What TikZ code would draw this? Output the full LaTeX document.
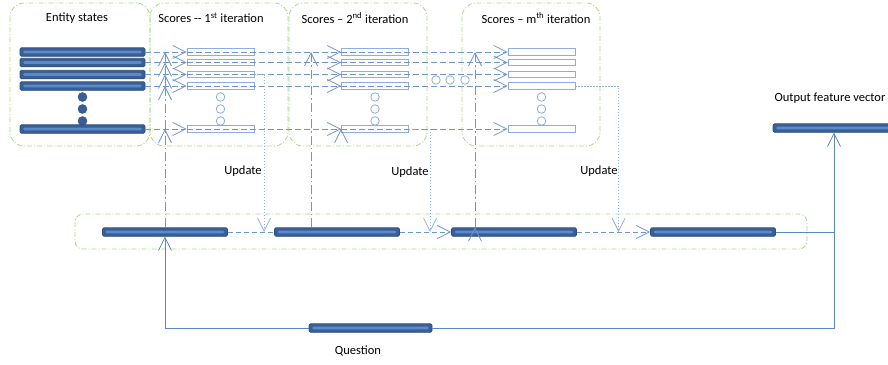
\documentclass[tikz,border=0pt]{standalone}
\usepackage{fontspec}
\setmainfont{Carlito}
\usetikzlibrary{positioning,arrows.meta}

\definecolor{bardark}{HTML}{3A5F95}
\definecolor{barline}{HTML}{2E4E7E}
\definecolor{barlite}{HTML}{5B8ACB}
\definecolor{scline}{HTML}{8DAEDC}
\definecolor{feedc}{HTML}{6E95CF}
\definecolor{updc}{HTML}{8FB0DE}
\definecolor{qc}{HTML}{5A86C6}
\definecolor{grpc}{HTML}{AED68A}

\tikzset{
  entbar/.style={draw=barline, fill=bardark, rounded corners=1.5pt, line width=0.8pt,
    minimum width=125pt, minimum height=8.5pt, inner sep=0pt,
    path picture={\fill[barlite] ([xshift=3pt,yshift=-2.9pt]path picture bounding box.north west)
      rectangle ([xshift=-3pt,yshift=2.9pt]path picture bounding box.south east);}},
  scbar/.style={draw=scline, fill=white, line width=0.9pt, minimum width=67pt,
    minimum height=6.5pt, inner sep=0pt},
  dot/.style={circle, draw=barline, fill=bardark, minimum size=9pt, inner sep=0pt},
  ring/.style={circle, draw=scline, fill=white, line width=0.8pt, minimum size=8.5pt, inner sep=0pt},
  grp/.style={draw=grpc, line width=0.8pt, rounded corners=14pt,
    dash pattern=on 5pt off 2pt on 1pt off 2pt},
  vee/.style={-{Straight Barb[length=13pt,width=13pt,line width=0.8pt]}},
  feed/.style={draw=feedc, line width=1pt, dash pattern=on 6pt off 3pt, vee},
  link/.style={draw=feedc, line width=1pt, dash pattern=on 5pt off 3pt},
  upl/.style={draw=feedc, line width=1pt, dash pattern=on 9pt off 3pt on 1.5pt off 3pt, vee},
  upd/.style={draw=updc, line width=0.9pt, dash pattern=on 1.5pt off 1.5pt, vee},
  qline/.style={draw=qc, line width=1pt}
}

\begin{document}
\begin{tikzpicture}[x=1pt,y=-1pt,node distance=12pt,on grid,
    font=\fontsize{12.5}{14}\selectfont]
\useasboundingbox (0,0) rectangle (888,364);

% groups
\draw[grp] (10,3) rectangle (150,146);
\draw[grp] (150,3) rectangle (288,146);
\draw[grp] (289,3) rectangle (427,146);
\draw[grp] (462,3) rectangle (600,146);
\draw[grp, rounded corners=8pt] (75,214) rectangle (807,249);

\node (t_e) at (77,18) {Entity states};
\node (t_1) at (211,18) {Scores -{}- 1\textsuperscript{st} iteration};
\node (t_2) at (355,18) {Scores – 2\textsuperscript{nd} iteration};
\node (t_m) at (536,18) {Scores – m\textsuperscript{th} iteration};

% entity states
\node[entbar] (e_1) at (82.5,52) {};
\node[entbar] (e_2) [below=10.5pt of e_1] {};
\node[entbar] (e_3) [below=12pt of e_2] {};
\node[entbar] (e_4) [below=11.5pt of e_3] {};
\node[dot] (d_1) [below=11pt of e_4] {};
\node[dot] (d_2) [below=12pt of d_1] {};
\node[dot] (d_3) [below=12pt of d_2] {};
\node[entbar] (e_5) [below=8pt of d_3] {};

% scores, 1st iteration
\node[scbar] (f_1) [right=138pt of e_1] {};
\node[scbar] (f_2) [right=138pt of e_2] {};
\node[scbar] (f_3) [right=138pt of e_3] {};
\node[scbar] (f_4) [right=138pt of e_4] {};
\node[scbar] (f_5) [right=138pt of e_5] {};
\node[ring] (r_1) [below=11pt of f_4] {};
\node[ring] (r_2) [below=12pt of r_1] {};
\node[ring] (r_3) [below=12pt of r_2] {};

% scores, 2nd iteration
\node[scbar] (g_1) [right=154.5pt of f_1] {};
\node[scbar] (g_2) [right=154.5pt of f_2] {};
\node[scbar] (g_3) [right=154.5pt of f_3] {};
\node[scbar] (g_4) [right=154.5pt of f_4] {};
\node[scbar] (g_5) [right=154.5pt of f_5] {};
\node[ring] (s_1) [below=11pt of g_4] {};
\node[ring] (s_2) [below=12pt of s_1] {};
\node[ring] (s_3) [below=12pt of s_2] {};

% scores, m-th iteration
\node[scbar] (h_1) [right=166.5pt of g_1] {};
\node[scbar] (h_2) [right=166.5pt of g_2] {};
\node[scbar] (h_3) [right=166.5pt of g_3] {};
\node[scbar] (h_4) [right=166.5pt of g_4] {};
\node[scbar] (h_5) [right=166.5pt of g_5] {};
\node[ring] (v_1) [below=11pt of h_4] {};
\node[ring] (v_2) [below=12pt of v_1] {};
\node[ring] (v_3) [below=12pt of v_2] {};

\node[ring] (p_2) at (450,80) {};
\node[ring] (p_1) [left=14pt of p_2] {};
\node[ring] (p_3) [right=15pt of p_2] {};

% memory, question, output
\node[entbar] (u_1) at (165,232) {};
\node[entbar] (u_2) [right=172pt of u_1] {};
\node[entbar] (u_3) [right=177pt of u_2] {};
\node[entbar] (u_4) [right=199pt of u_3] {};
\node[entbar, minimum width=123pt] (q) at (370.5,328) {};
\node[entbar, minimum width=122pt] (o) at (834,128) {};

\node (l_q) at (358,351) {Question};
\node[anchor=west] (l_o) at (771,98) {Output feature vector};
\node (l_1) at (243,171) {Update};
\node (l_2) at (410,172) {Update};
\node (l_3) at (599,171) {Update};

\coordinate (k_2) at ([xshift=-26pt]u_2.north);
\coordinate (k_3) at ([xshift=-39pt]u_3.north);
\coordinate (w_1) at ([xshift=-10pt]u_2.west);
\coordinate (w_2) at ([xshift=-21pt]u_3.west);
\coordinate (w_3) at ([xshift=-31.5pt]u_4.west);

\path[feed]
  (e_1.east) edge (f_1.west) (f_1.west) edge (g_1.west) (g_1.west) edge (h_1.west)
  (e_2.east) edge (f_2.west) (f_2.west) edge (g_2.west) (g_2.west) edge (h_2.west)
  (e_3.east) edge (f_3.west) (f_3.west) edge (g_3.west) (g_3.west) edge (h_3.west)
  (e_4.east) edge (f_4.west) (f_4.west) edge (g_4.west) (g_4.west) edge (h_4.west)
  (e_5.east) edge (f_5.west) (f_5.west) edge (g_5.west) (g_5.west) edge (h_5.west);

\path[upl]
  (u_1.north) edge (u_1 |- e_5)
  (u_1 |- e_5) edge (u_1 |- e_4)
  (u_1 |- e_4) edge (u_1 |- e_3)
  (u_1 |- e_3) edge (u_1 |- e_2)
  (u_1 |- e_2) edge (u_1 |- e_1)
  (k_2) edge (k_2 |- g_1)
  (k_3) edge (k_3 |- h_1);

\draw[upd] (f_3.east) -| (w_1);
\draw[upd] (g_5.east) -| (w_2);
\draw[upd] (h_4.east) -| (w_3);

\draw[link] (u_1.east) -- (u_2.west);
\draw[link, vee] (u_2.east) -- (u_3.west);
\draw[link, vee] (u_3.east) -- (u_4.west);

\draw[qline, vee] (q.west) -| (u_1.south);
\draw[qline, vee] (q.east) -| (o.south);
\draw[qline] (u_4.east) -- (u_4 -| o);
\end{tikzpicture}
\end{document}
